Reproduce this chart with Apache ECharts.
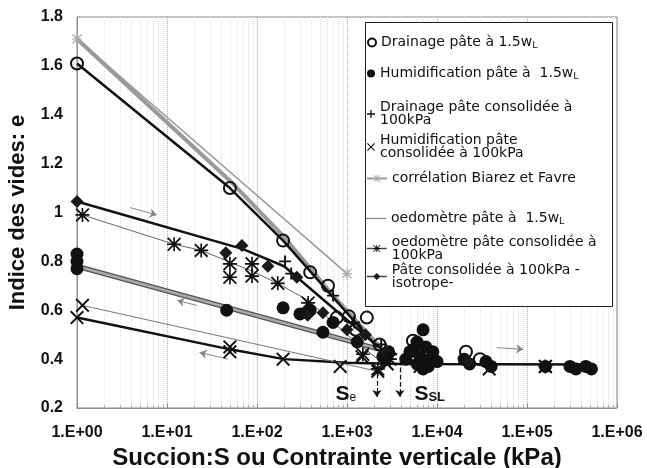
<!DOCTYPE html>
<html>
<head>
<meta charset="utf-8">
<script src="https://cdn.jsdelivr.net/npm/echarts@6/dist/echarts.min.js"></script>
<style>
  html, body { margin: 0; padding: 0; background: #fff; }
  #main { width: 647px; height: 468px; }
</style>
</head>
<body>
<div id="main"></div>
<script>
// axes
var xMin = 1
var xMax = 1000000
var yMin = 0.2
var yMax = 1.8
var yStep = 0.2

// Drainage pâte à 1.5wL (cercles vides)
var drainPateS = [1, 50, 195, 390, 615, 770, 1050, 1660, 1250, 2300, 5400, 21000, 30000]
var drainPateE = [1.61, 1.10, 0.885, 0.755, 0.70, 0.57, 0.575, 0.57, 0.52, 0.46, 0.475, 0.43, 0.40]

// Humidification pâte à 1.5wL (cercles pleins)
var humPateS = [1, 1, 1, 46, 195, 300, 390, 540, 700, 1300, 2500, 2900, 4500, 5000, 5500, 6000, 6500, 7000, 7000, 7500, 8000, 8500, 6000, 9000, 10000, 20000, 23000, 35000, 40000, 160000, 300000, 350000, 450000, 520000]
var humPateE = [0.83, 0.80, 0.77, 0.60, 0.61, 0.585, 0.60, 0.51, 0.55, 0.47, 0.41, 0.43, 0.40, 0.43, 0.44, 0.47, 0.41, 0.52, 0.36, 0.45, 0.37, 0.40, 0.38, 0.43, 0.39, 0.40, 0.38, 0.39, 0.37, 0.37, 0.37, 0.36, 0.37, 0.36]

// Drainage pâte consolidée à 100kPa (+)
var drainConsS = [205, 240, 700, 1200, 2400, 3100]
var drainConsE = [0.80, 0.75, 0.66, 0.55, 0.46, 0.42]

// Humidification pâte consolidée à 100kPa (x)
var humConsS = [1, 1.15, 50, 50, 195, 840, 1470, 2200, 2800, 6500, 38000, 160000]
var humConsE = [0.57, 0.62, 0.45, 0.43, 0.40, 0.37, 0.41, 0.35, 0.38, 0.37, 0.36, 0.37]

// corrélation Biarez et Favre
var biarezS = [1, 1000]
var biarezE = [1.71, 0.75]

// oedomètre pâte à 1.5wL
var oedoPateS = [1, 50, 200, 700, 2600]
var oedoPateE = [1.71, 1.13, 0.90, 0.66, 0.43]

// oedomètre pâte consolidée à 100kPa (*)
var oedoConsS = [1.15, 12, 24, 50, 50, 88, 88, 170, 370, 1500, 2200, 3000, 7000, 160000]
var oedoConsE = [0.99, 0.87, 0.845, 0.79, 0.735, 0.79, 0.74, 0.71, 0.63, 0.42, 0.36, 0.40, 0.40, 0.37]
var oedoConsLineS = [1.15, 12, 24, 88, 170, 370, 1000, 2200]
var oedoConsLineE = [0.99, 0.87, 0.845, 0.76, 0.71, 0.64, 0.50, 0.40]

// Pâte consolidée à 100kPa -isotrope- (losanges)
var isoS = [1, 45, 68, 132, 277, 365, 540, 1000, 1600, 2700, 22000]
var isoE = [1.045, 0.835, 0.865, 0.78, 0.735, 0.58, 0.59, 0.52, 0.50, 0.43, 0.39]

// courbes tracées
var fitDrainS = [1, 50, 195, 2400]
var fitDrainE = [1.61, 1.10, 0.885, 0.43]
var fitIsoS = [1, 70, 200, 2600]
var fitIsoE = [1.045, 0.85, 0.78, 0.43]
var fitHumPateS = [1, 2300]
var fitHumPateE = [0.78, 0.44]
var fitHumConsS = [1, 50, 200, 1000, 4000, 500000]
var fitHumConsE = [0.57, 0.44, 0.40, 0.385, 0.38, 0.378]
var fitHumThinS = [1.15, 2200]
var fitHumThinE = [0.62, 0.35]

function pairs (xs, ys) {
  return xs.map(function (x, i) { return [x, ys[i]] })
}

var crossPath = 'path://M0,1L1,0L5,4L9,0L10,1L6,5L10,9L9,10L5,6L1,10L0,9L4,5Z'
var plusPath = 'path://M4.2,0H5.8V4.2H10V5.8H5.8V10H4.2V5.8H0V4.2H4.2Z'
var starPath = 'path://M4.4,0H5.6V4.4H10V5.6H5.6V10H4.4V5.6H0V4.4H4.4Z M0,0.9L0.9,0L5,4.1L9.1,0L10,0.9L5.9,5L10,9.1L9.1,10L5,5.9L0.9,10L0,9.1L4.1,5Z'
var thinLinePath = 'path://M0,4.4H20V5.6H0Z'

var font = 'Liberation Sans, Arial, sans-serif'
var legendFont = 'DejaVu Sans, sans-serif'

function fitLine (name, data, color, width) {
  return {
    name: name,
    type: 'line',
    data: data,
    symbol: 'none',
    silent: true,
    z: 2,
    lineStyle: { color: color, width: width },
    itemStyle: { color: color }
  }
}

var myChart = echarts.init(document.getElementById('main'))

var legendNames = [
  'Drainage pâte à 1.5wL',
  'Humidification pâte à  1.5wL',
  'Drainage pâte consolidée à\n100kPa',
  'Humidification pâte\nconsolidée à 100kPa',
  'corrélation Biarez et Favre',
  'oedomètre pâte à  1.5wL',
  'oedomètre pâte consolidée à\n100kPa',
  'Pâte consolidée à 100kPa -\nisotrope-'
]
var legendTops = [35.5, 66.5, 100.5, 133.5, 171.5, 211.5, 235, 263]
var legendWidths = [8, 8, 8, 8, 20, 20, 20, 20]

var legends = legendNames.map(function (n, i) {
  var item = { name: n }
  if (i === 5) {
    item.icon = thinLinePath
    item.itemStyle = { color: '#888' }
  }
  if (i === 6 || i === 7) item.lineStyle = { opacity: 1, width: 1.5, color: '#444' }
  return {
    data: [item],
    z: 20,
    padding: 0,
    left: legendWidths[i] > 12 ? 366 : 367,
    top: legendTops[i],
    itemWidth: legendWidths[i],
    itemHeight: i === 5 ? 10 : 9,
    itemGap: 0,
    selectedMode: false,
    textStyle: {
      fontFamily: legendFont,
      fontSize: 14,
      color: '#111',
      lineHeight: 13,
      rich: {
        sub: { fontFamily: legendFont, fontSize: 9.5, color: '#111', padding: [7, 0, 0, 0] }
      }
    },
    formatter: function (name) {
      return name.replace('wL', 'w{sub|L}')
    }
  }
})

myChart.setOption({
  animation: false,
  backgroundColor: '#fff',
  legend: legends,
  graphic: [{
    type: 'rect',
    left: 365,
    top: 22,
    shape: { width: 247, height: 284 },
    style: { fill: '#fff', stroke: '#222', lineWidth: 1 },
    z: 10
  }],
  grid: {
    left: 77,
    right: 30,
    top: 17,
    bottom: 60,
    outerBoundsMode: 'none',
    containLabel: false,
    show: true,
    borderColor: '#888',
    borderWidth: 1
  },
  xAxis: {
    type: 'log',
    logBase: 10,
    min: xMin,
    max: xMax,
    name: 'Succion:S ou Contrainte verticale (kPa)',
    nameLocation: 'middle',
    nameGap: 33,
    nameTextStyle: { fontFamily: font, fontSize: 24, fontWeight: 'bold', color: '#111', padding: [0, 20, 0, 0] },
    axisLine: { lineStyle: { color: '#888', type: 'dotted' } },
    axisTick: { show: true, inside: true, length: 4, lineStyle: { color: '#888' } },
    minorTick: { show: true, splitNumber: 9, length: 3, lineStyle: { color: '#aaa' } },
    axisLabel: {
      fontFamily: font,
      fontSize: 16,
      fontWeight: 'bold',
      color: '#111',
      margin: 17,
      formatter: function (v) {
        return '1.E+0' + Math.round(Math.log10(v))
      }
    },
    splitLine: { show: true, lineStyle: { color: '#aaa', type: 'dotted' } },
    minorSplitLine: { show: true, lineStyle: { color: '#e2e2e2', type: 'dotted' } }
  },
  yAxis: {
    type: 'value',
    min: yMin,
    max: yMax,
    interval: yStep,
    name: 'Indice des vides: e',
    nameLocation: 'middle',
    nameGap: 48,
    nameTextStyle: { fontFamily: font, fontSize: 22, fontWeight: 'bold', color: '#111' },
    axisLine: { show: true, lineStyle: { color: '#888', type: 'dotted' } },
    axisTick: { show: false },
    axisLabel: {
      fontFamily: font,
      fontSize: 16,
      fontWeight: 'bold',
      color: '#111',
      margin: 14,
      formatter: function (v) { return String(Math.round(v * 10) / 10) }
    },
    splitLine: { show: false }
  },
  series: [
    fitLine('fitDrain', pairs(fitDrainS, fitDrainE), '#111', 2.5),
    Object.assign(fitLine(legendNames[5], pairs(oedoPateS, oedoPateE), '#9a9a9a', 4), { z: 1 }),
    fitLine('fitIso', pairs(fitIsoS, fitIsoE), '#111', 2.5),
    Object.assign(fitLine('fitHumPate', pairs(fitHumPateS, fitHumPateE), '#555', 5), { z: 1 }),
    fitLine('fitHumPate2', pairs(fitHumPateS, fitHumPateE), '#aaa', 2.5),
    Object.assign(fitLine('fitHumCons', pairs(fitHumConsS, fitHumConsE), '#111', 2.5), {
      markLine: {
        silent: true,
        symbol: ['none', 'arrow'],
        symbolSize: 7,
        label: { show: false },
        lineStyle: { color: '#111', type: 'dashed', width: 1.2 },
        data: [
          [{ coord: [2150, 0.37] }, { coord: [2150, 0.245] }],
          [{ coord: [3870, 0.395] }, { coord: [3870, 0.245] }],
          [{ coord: [3.9, 1.02], lineStyle: { color: '#888', type: 'solid', width: 1 } }, { coord: [7.7, 0.99] }],
          [{ coord: [21.5, 0.62], lineStyle: { color: '#888', type: 'solid', width: 1 } }, { coord: [13, 0.64] }],
          [{ coord: [48, 0.40], lineStyle: { color: '#888', type: 'solid', width: 1 } }, { coord: [23, 0.427] }],
          [{ coord: [46000, 0.447], lineStyle: { color: '#888', type: 'solid', width: 1 } }, { coord: [91000, 0.44] }]
        ]
      },
      markPoint: {
        silent: true,
        symbol: 'circle',
        symbolSize: 0,
        label: {
          show: true,
          fontFamily: font,
          color: '#111',
          rich: {
            big: { fontFamily: font, fontSize: 21, fontWeight: 'bold', color: '#111' },
            sm: { fontFamily: font, fontSize: 12, color: '#111', padding: [6, 0, 0, 0] },
            smb: { fontFamily: font, fontSize: 13, fontWeight: 'bold', color: '#111', padding: [6, 0, 0, 0] }
          }
        },
        data: [
          { coord: [970, 0.255], label: { formatter: '{big|S}{sm|e}' } },
          { coord: [8300, 0.255], label: { formatter: '{big|S}{smb|SL}' } }
        ]
      }
    }),
    fitLine('oedoConsLine', pairs(oedoConsLineS, oedoConsLineE), '#666', 1),
    fitLine('fitHumThin', pairs(fitHumThinS, fitHumThinE), '#777', 1),
    {
      name: legendNames[4],
      type: 'line',
      data: pairs(biarezS, biarezE),
      z: 3,
      symbol: starPath,
      symbolSize: 10,
      lineStyle: { color: '#999', width: 1.5 },
      itemStyle: { color: '#aaa' }
    },
    {
      name: legendNames[0],
      type: 'scatter',
      data: pairs(drainPateS, drainPateE),
      z: 5,
      symbol: 'circle',
      symbolSize: 12,
      itemStyle: { color: 'rgba(255,255,255,0)', borderColor: '#111', borderWidth: 2, opacity: 1 }
    },
    {
      name: legendNames[1],
      type: 'scatter',
      data: pairs(humPateS, humPateE),
      z: 4,
      symbol: 'circle',
      symbolSize: 13,
      itemStyle: { color: '#111', opacity: 1 }
    },
    {
      name: legendNames[2],
      type: 'scatter',
      data: pairs(drainConsS, drainConsE),
      z: 6,
      symbol: plusPath,
      symbolSize: 12,
      itemStyle: { color: '#111', opacity: 1 }
    },
    {
      name: legendNames[3],
      type: 'scatter',
      data: pairs(humConsS, humConsE),
      z: 6,
      symbol: crossPath,
      symbolSize: 14,
      itemStyle: { color: '#111', opacity: 1 }
    },
    {
      name: legendNames[6],
      type: 'line',
      data: pairs(oedoConsS, oedoConsE),
      z: 6,
      symbol: starPath,
      symbolSize: 14,
      showAllSymbol: true,
      lineStyle: { color: '#444', width: 1, opacity: 0 },
      itemStyle: { color: '#111' }
    },
    {
      name: legendNames[7],
      type: 'line',
      data: pairs(isoS, isoE),
      z: 5,
      symbol: 'diamond',
      symbolSize: 13,
      showAllSymbol: true,
      lineStyle: { color: '#222', width: 1.5, opacity: 0 },
      itemStyle: { color: '#1a1a1a' }
    }
  ]
})
</script>
</body>
</html>
